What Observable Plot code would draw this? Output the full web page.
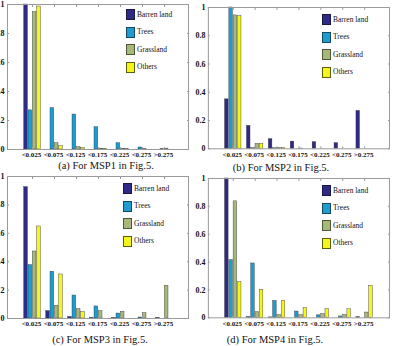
<!DOCTYPE html>
<html><head><meta charset="utf-8">
<script src="https://cdn.jsdelivr.net/npm/d3@7"></script>
<script src="https://cdn.jsdelivr.net/npm/@observablehq/plot@0.6"></script>
<style>
body{margin:0;background:#fff;}
#root{position:relative;width:393px;height:346px;overflow:hidden;font-family:"Liberation Serif",serif;background:#fff;}
.panel{position:absolute;}
.cap{position:absolute;font-size:10.5px;white-space:nowrap;transform:translate(-50%,-50%);line-height:1;color:#111;}
.sw{position:absolute;width:7px;height:9px;border:1px solid #222;}
.lt{position:absolute;font-size:7.5px;white-space:nowrap;line-height:1;transform:translateY(-50%);color:#111;}
</style></head><body><div id="root"></div>
<script>
const categories = ["<0.025", "<0.075", "<0.125", "<0.175", "<0.225", "<0.275", ">0.275"];
const seriesNames = ["Barren land", "Trees", "Grassland", "Others"];
const yTicks = [0, 0.2, 0.4, 0.6, 0.8, 1];
const captionLabels = ["(a) For MSP1 in Fig.5.", "(b) For MSP2 in Fig.5.", "(c) For MSP3 in Fig.5.", "(d) For MSP4 in Fig.5."];

const msp1Barren = [1.0, 0.0, 0.0, 0.0, 0.0, 0.0, 0.0];
const msp1Trees  = [0.27, 0.285, 0.241, 0.154, 0.043, 0.014, 0.002];
const msp1Grass  = [0.947, 0.043, 0.016, 0.006, 0.004, 0.002, 0.006];
const msp1Others = [0.986, 0.023, 0.01, 0.003, 0.002, 0.0, 0.0];

const msp2Barren = [0.35, 0.162, 0.068, 0.051, 0.047, 0.04, 0.268];
const msp2Trees  = [1.0, 0.005, 0.004, 0.0, 0.0, 0.0, 0.0];
const msp2Grass  = [0.944, 0.035, 0.007, 0.002, 0.0, 0.0, 0.0];
const msp2Others = [0.939, 0.035, 0.007, 0.0, 0.0, 0.0, 0.0];

const msp3Barren = [0.925, 0.052, 0.01, 0.003, 0.003, 0.0, 0.003];
const msp3Trees  = [0.376, 0.329, 0.162, 0.085, 0.035, 0.007, 0.0];
const msp3Grass  = [0.472, 0.089, 0.066, 0.052, 0.047, 0.037, 0.23];
const msp3Others = [0.648, 0.31, 0.045, 0.0, 0.0, 0.0, 0.0];

const msp4Barren = [1.0, 0.005, 0.003, 0.0, 0.0, 0.0, 0.005];
const msp4Trees  = [0.414, 0.39, 0.121, 0.045, 0.018, 0.01, 0.0];
const msp4Grass  = [0.836, 0.04, 0.02, 0.02, 0.026, 0.02, 0.038];
const msp4Others = [0.255, 0.2, 0.121, 0.07, 0.062, 0.062, 0.229];

const seriesColors = ["#2e2a86", "#1e9cd0", "#a6b97a", "#f5f51c"];
const swatchBorders = ["#1a1840", "#124a66", "#4d5635", "#5d5d10"];

const panels = [
  {data: [msp1Barren, msp1Trees, msp1Grass, msp1Others], caption: captionLabels[0], frame: [7, 4, 188, 149], cap: [106, 166], leg: [126, 9]},
  {data: [msp2Barren, msp2Trees, msp2Grass, msp2Others], caption: captionLabels[1], frame: [208, 7, 390, 149], cap: [281, 168], leg: [322, 14]},
  {data: [msp3Barren, msp3Trees, msp3Grass, msp3Others], caption: captionLabels[2], frame: [7, 176, 188, 318], cap: [100, 340], leg: [123, 183]},
  {data: [msp4Barren, msp4Trees, msp4Grass, msp4Others], caption: captionLabels[3], frame: [208, 178, 390, 318], cap: [275, 340], leg: [322, 185]}
];

const root = document.getElementById("root");
const fmt = d => String(+(+d).toFixed(1));

panels.forEach(p => {
  const [l, t, r, b] = p.frame;
  const W = r - l, H = b - t;
  const ML = 30, MR = 4, MT = 5, MB = 16;
  const step = W / 8, bw = 4.3;
  const marks = [];
  p.data.forEach((vals, k) => {
    const rows = categories.map((c, i) => ({cat: c, v: vals[i]}));
    const il = step / 2 + (k - 2) * bw;
    marks.push(Plot.barY(rows, {x: "cat", y: "v", fill: seriesColors[k], stroke: "#333", strokeWidth: 0.4, insetLeft: il, insetRight: step - il - bw}));
  });
  marks.push(Plot.frame({stroke: "#9a9a9a"}));
  marks.push(Plot.axisY(yTicks, {tickSize: 0, tickPadding: 3, tickFormat: fmt, fontWeight: "bold", fontSize: 8, fill: "#111"}));
  marks.push(Plot.axisY(yTicks, {tickSize: -2, fill: "none", stroke: "#999"}));
  marks.push(Plot.axisY(yTicks, {anchor: "right", tickSize: -2, fill: "none", stroke: "#999"}));
  marks.push(Plot.axisX({tickSize: 0, tickPadding: 3, fontWeight: "bold", fontSize: 7, fill: "#111", dx: -1}));
  marks.push(Plot.axisX({tickSize: -2, fill: "none", stroke: "#999"}));
  marks.push(Plot.axisX({anchor: "top", tickSize: -2, fill: "none", stroke: "#999"}));
  const svg = Plot.plot({
    width: W + ML + MR, height: H + MT + MB,
    marginLeft: ML, marginRight: MR, marginTop: MT, marginBottom: MB,
    x: {domain: categories, paddingInner: 0, paddingOuter: 0.5, label: null},
    y: {domain: [0, 1], label: null},
    style: {fontFamily: "Liberation Serif", fontSize: "8px", background: "transparent", overflow: "visible"},
    marks
  });
  const wrap = document.createElement("div");
  wrap.className = "panel";
  wrap.style.left = (l - ML) + "px";
  wrap.style.top = (t - MT) + "px";
  wrap.appendChild(svg);
  root.appendChild(wrap);

  seriesNames.forEach((name, k) => {
    const y = p.leg[1] + k * 17.5;
    const sw = document.createElement("div");
    sw.className = "sw";
    sw.style.left = p.leg[0] + "px";
    sw.style.top = y + "px";
    sw.style.background = seriesColors[k];
    sw.style.borderColor = swatchBorders[k];
    root.appendChild(sw);
    const lt = document.createElement("div");
    lt.className = "lt";
    lt.style.left = (p.leg[0] + 11) + "px";
    lt.style.top = (y + 5.5) + "px";
    lt.textContent = name;
    root.appendChild(lt);
  });

  const cap = document.createElement("div");
  cap.className = "cap";
  cap.style.left = p.cap[0] + "px";
  cap.style.top = p.cap[1] + "px";
  cap.textContent = p.caption;
  root.appendChild(cap);
});
</script>
</body></html>
